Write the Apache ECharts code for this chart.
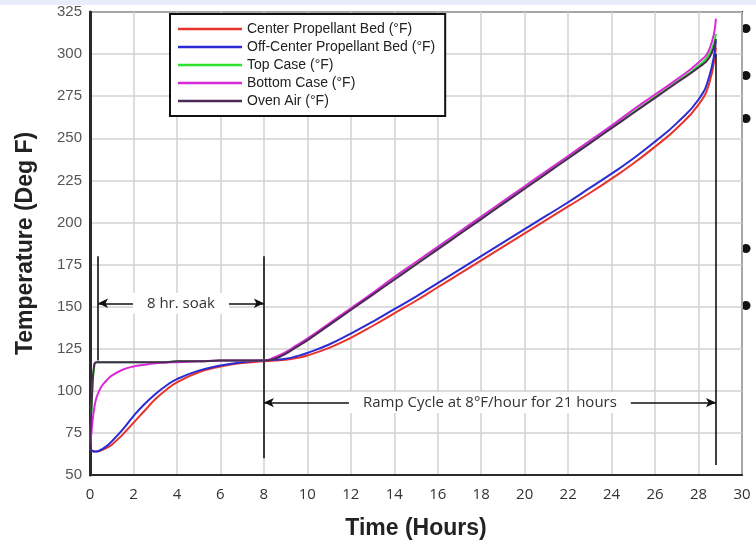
<!DOCTYPE html>
<html>
<head>
<meta charset="utf-8">
<script src="https://cdn.jsdelivr.net/npm/echarts@6/dist/echarts.min.js"></script>
<style>
  html, body { margin: 0; padding: 0; background: #fff; }
  #tempChart { width: 756px; height: 545px; }
</style>
</head>
<body>
<div id="tempChart"></div>
<script>
// time axis (hours) shared by every series
var hours = [0, 0.1, 0.2, 0.3, 0.5, 0.75, 1, 1.5, 2, 2.5, 3, 3.5, 4, 5, 6, 7, 8, 8.5, 9, 9.5, 10,
    11, 12, 13, 14, 15, 16, 17, 18, 19, 20, 21, 22, 23, 24, 25, 26, 27, 28, 28.5, 28.8];

var centerBed = [65, 64.5, 64, 64, 64.5, 66, 68, 74, 81, 88, 95, 100.5, 105, 111, 114.5, 116.5, 117.5, 118, 118.5, 119.5, 121,
    125.5, 131.5, 138.5, 146, 153.5, 161.5, 169.5, 177.5, 185.5, 193.5, 201.5, 209.5, 217.5, 226, 235, 245, 256, 270, 283, 304];
var offCenterBed = [65, 64.5, 64, 64, 65, 67, 70, 77, 85, 92, 98, 103, 107, 112, 115, 117, 118, 118.5, 119, 120.5, 122.5,
    127.5, 134, 141, 148.5, 156, 164, 172, 180, 188, 196, 204, 212, 220.5, 229, 238, 248, 259, 273, 287, 308];
var topCase = [65, 98, 115, 117, 117, 117, 117, 117, 117, 117, 117, 117, 117.5, 117.5, 118, 118, 118, 119.5, 122.5, 126.5, 130.5,
    139.5, 148.5, 157.5, 166.5, 175.5, 184.5, 193.5, 202.5, 211.5, 220.5, 229.5, 238.5, 247.5, 256.5, 265.5, 274.5, 283.5, 293, 300, 312];
var bottomCase = [65, 80, 90, 96, 102, 106, 109, 112.5, 114.5, 115.5, 116.3, 116.8, 117, 117.5, 118, 118, 118, 120, 123, 127, 131,
    140, 149, 158, 167.5, 176.5, 185.5, 194.5, 203.5, 212.5, 221.5, 230.5, 239.5, 248.5, 257.5, 267, 276, 285, 295, 303, 321];
var ovenAir = [65, 100, 116, 117, 117, 117, 117, 117, 117, 117, 117, 117, 117.5, 117.5, 118, 118, 118, 119, 122, 126, 130,
    139, 148, 157, 166, 175, 184, 193, 202, 211, 220, 229, 238, 247, 256, 265, 274, 283, 292, 298, 309];

var seriesNames = ['Center Propellant Bed (°F)', 'Off-Center Propellant Bed (°F)', 'Top Case (°F)', 'Bottom Case (°F)', 'Oven Air (°F)'];
var seriesColors = ['#e8332b', '#2b2bd6', '#2fe02f', '#d82ad8', '#4b2a55'];

// annotation lines, in data units [hours, degF]
var soakStart = [[0.37, 118], [0.37, 180]];
var soakEnd = [[8, 60], [8, 180]];
var rampEnd = [[28.8, 56], [28.8, 300]];
var soakArrow = [[0.37, 152], [8, 152]];
var rampArrow = [[8, 93], [28.8, 93]];
var soakText = '8 hr. soak';
var rampText = 'Ramp Cycle at 8°F/hour for 21 hours';

var chart = echarts.init(document.getElementById('tempChart'));

function pairs(ys) {
    return hours.map(function (h, i) { return [h, ys[i]]; });
}

function segment(pts) {
    return [{ coord: pts[0] }, { coord: pts[1] }];
}

var allValues = [centerBed, offCenterBed, topCase, bottomCase, ovenAir];

var series = allValues.map(function (vals, i) {
    return {
        name: seriesNames[i],
        type: 'line',
        smooth: true,
        symbol: 'none',
        data: pairs(vals),
        lineStyle: { color: seriesColors[i], width: 2 },
        itemStyle: { color: seriesColors[i] },
        z: 3 + i
    };
});

var arrowLabel = {
    show: true,
    position: 'middle',
    distance: 0,
    verticalAlign: 'middle',
    backgroundColor: '#fff',
    padding: [3, 14],
    color: '#333',
    fontSize: 15,
    fontFamily: 'Open Sans'
};

var noteLines = [segment(soakStart), segment(soakEnd), segment(rampEnd)];
[[soakArrow, soakText], [rampArrow, rampText]].forEach(function (a) {
    var seg = segment(a[0]);
    seg[0].symbol = 'arrow';
    seg[1].symbol = 'arrow';
    seg[0].symbolSize = [7, 10];
    seg[1].symbolSize = [7, 10];
    seg[0].label = Object.assign({}, arrowLabel, { formatter: a[1] });
    noteLines.push(seg);
});

series.push({
    name: 'notes',
    type: 'line',
    data: [],
    markLine: {
        silent: true,
        animation: false,
        symbol: 'none',
        lineStyle: { color: '#111', width: 1.6, type: 'solid' },
        label: { show: false },
        data: noteLines
    }
});

var bulletTops = [14, 61, 104, 234, 291];

var option = {
    animation: false,
    backgroundColor: '#fff',
    grid: { left: 90, right: 14, top: 12, bottom: 70, show: true, borderColor: '#2a2a2a', borderWidth: 2, backgroundColor: 'transparent' },
    legend: {
        data: seriesNames,
        icon: 'rect',
        orient: 'vertical',
        left: 170,
        top: 14,
        backgroundColor: '#fff',
        borderColor: '#111',
        borderWidth: 2,
        borderRadius: 0,
        padding: [8, 10, 8, 8],
        itemGap: 4,
        itemWidth: 64,
        itemHeight: 2.5,
        selectedMode: false,
        textStyle: { fontSize: 14, color: '#222', fontFamily: 'Liberation Sans', lineHeight: 14 }
    },
    xAxis: {
        type: 'value',
        min: 0,
        max: 30,
        interval: 2,
        name: 'Time (Hours)',
        nameLocation: 'middle',
        nameGap: 42,
        nameTextStyle: { fontSize: 23, fontWeight: 'bold', color: '#222', fontFamily: 'Liberation Sans' },
        axisLine: { show: true, lineStyle: { color: '#2a2a2a', width: 2 } },
        axisTick: { show: false },
        axisLabel: { fontSize: 15, color: '#333', margin: 12, fontFamily: 'Open Sans' },
        splitLine: { show: true, lineStyle: { color: '#d2d2d2', width: 1.5 } }
    },
    yAxis: {
        type: 'value',
        min: 50,
        max: 325,
        interval: 25,
        name: 'Temperature (Deg F)',
        nameLocation: 'middle',
        nameGap: 53,
        nameTextStyle: { fontSize: 23, fontWeight: 'bold', color: '#222', fontFamily: 'Liberation Sans' },
        axisLine: { show: true, lineStyle: { color: '#2a2a2a', width: 3 } },
        axisTick: { show: false },
        axisLabel: { fontSize: 15, color: '#555', margin: 8, fontFamily: 'Liberation Sans' },
        splitLine: { show: true, lineStyle: { color: '#d2d2d2', width: 1.5 } }
    },
    graphic: [{ type: 'rect', left: 0, top: 0, shape: { width: 756, height: 5 }, style: { fill: '#e9ecfb' }, silent: true }]
        .concat(bulletTops.map(function (t) {
            return { type: 'text', left: 740, top: t, silent: true, style: { text: '•', fontSize: 34, fill: '#111' } };
        })),
    series: series
};

chart.setOption(option);
</script>
</body>
</html>
